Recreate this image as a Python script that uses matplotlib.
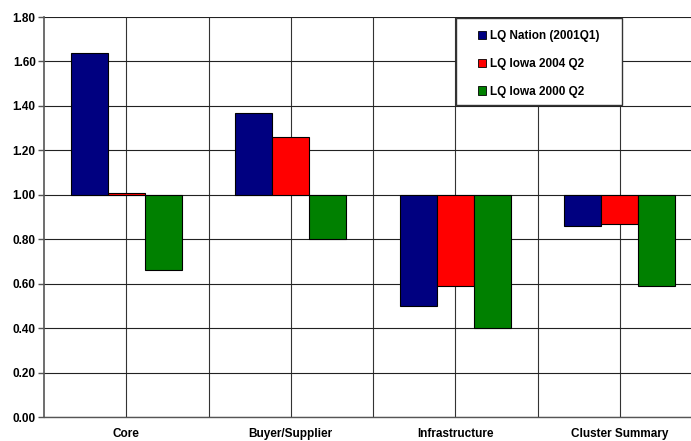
import numpy as np
import matplotlib.pyplot as plt
from matplotlib.patches import Patch, Rectangle
from matplotlib.ticker import FormatStrFormatter, MultipleLocator

plt.rcParams['font.family'] = ['Liberation Sans', 'DejaVu Sans']
plt.rcParams['font.weight'] = 'bold'

# Location quotients by cluster group (bars hang from 1.00)
categories = ['Core', 'Buyer/Supplier', 'Infrastructure', 'Cluster Summary']
series = ['LQ Nation (2001Q1)', 'LQ Iowa 2004 Q2', 'LQ Iowa 2000 Q2']
lq_nation = [1.64, 1.37, 0.50, 0.86]
lq_iowa_2004 = [1.01, 1.26, 0.59, 0.87]
lq_iowa_2000 = [0.66, 0.80, 0.40, 0.59]
colours = ['#000080', '#FF0000', '#008000']

fig = plt.figure(figsize=(6.91, 4.41), dpi=100)
ax = fig.add_axes([44 / 691, 24 / 441, 658 / 691, 400 / 441])

x = np.arange(len(categories))
width = 0.225
for k, vals in enumerate([lq_nation, lq_iowa_2004, lq_iowa_2000]):
    vals = np.array(vals)
    ax.bar(x + (k - 1) * width, vals - 1.0, width, bottom=1.0,
           color=colours[k], edgecolor='black', linewidth=0.8, zorder=3)

# Axes, ticks and grid
ax.set_xlim(-0.5, len(categories) - 0.5)
ax.set_ylim(0, 1.8)
ax.yaxis.set_major_locator(MultipleLocator(0.2))
ax.yaxis.set_major_formatter(FormatStrFormatter('%.2f'))
ax.set_xticks(x)
ax.set_xticklabels(categories, fontsize=8.5, fontweight='bold')
ax.set_xticks(x[:-1] + 0.5, minor=True)
ax.tick_params(axis='x', which='both', length=0, pad=8)
ax.tick_params(axis='y', length=4, width=1, direction='out', pad=2,
               labelsize=8.5, color='#555555')
for lab in ax.get_yticklabels():
    lab.set_fontweight('bold')
ax.set_axisbelow(True)
ax.grid(True, which='major', axis='y', color='#222222', linewidth=0.8)
ax.grid(True, which='both', axis='x', color='#333333', linewidth=0.8)
for side in ['top', 'right']:
    ax.spines[side].set_visible(False)
ax.spines['left'].set_color('#555555')
ax.spines['left'].set_linewidth(1.2)
ax.spines['bottom'].set_color('#555555')
ax.spines['bottom'].set_linewidth(1.0)

# Legend box drawn over the grid
box = Rectangle((0.626, 0.78), 0.252, 0.2175, transform=ax.transAxes,
                facecolor='white', edgecolor='#333333', linewidth=1.0,
                zorder=5)
ax.add_patch(box)
handles = [Patch(facecolor=c, edgecolor='black', linewidth=0.6) for c in colours]
leg = ax.legend(handles, series, loc='upper left',
                bbox_to_anchor=(0.6455, 0.99), frameon=False,
                prop={'size': 8.5, 'weight': 'bold'},
                handlelength=0.7, handleheight=0.7, handletextpad=0.3,
                labelspacing=1.32, borderpad=0.3)
leg.set_zorder(6)

fig.savefig('out.png', dpi=100)
